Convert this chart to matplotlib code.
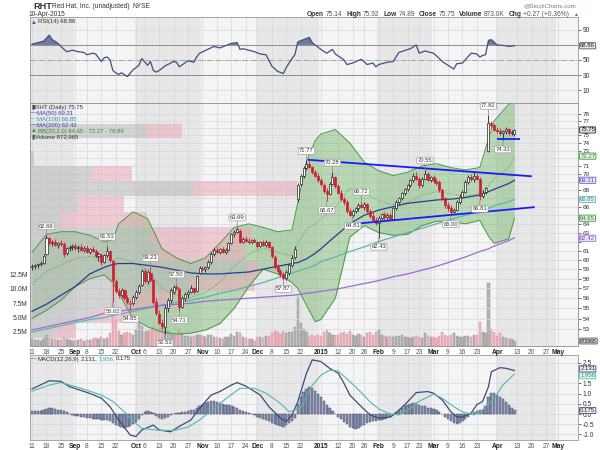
import numpy as np
import pandas as pd
import matplotlib
matplotlib.use('Agg')
import matplotlib.pyplot as plt
from matplotlib.transforms import blended_transform_factory as blend
from matplotlib.ticker import NullLocator, NullFormatter

plt.rcParams['font.family'] = ['Liberation Sans', 'DejaVu Sans']

# 交易日（去掉美股假日）
holidays = ['2014-09-01', '2014-11-27', '2014-12-25', '2015-01-01',
            '2015-01-19', '2015-02-16', '2015-04-03']
days = pd.bdate_range('2014-08-11', '2015-05-08')
days = days[~days.isin(pd.to_datetime(holidays))]

tick_dates = ['2014-08-11', '2014-08-18', '2014-08-25', '2014-09-02', '2014-09-08', '2014-09-15',
              '2014-09-22', '2014-10-01', '2014-10-06', '2014-10-13', '2014-10-20', '2014-10-27',
              '2014-11-03', '2014-11-10', '2014-11-17', '2014-11-24', '2014-12-01', '2014-12-08',
              '2014-12-15', '2014-12-22', '2015-01-02', '2015-01-12', '2015-01-20', '2015-01-26',
              '2015-02-02', '2015-02-09', '2015-02-17', '2015-02-23', '2015-03-02', '2015-03-09',
              '2015-03-16', '2015-03-23', '2015-04-01', '2015-04-13', '2015-04-20', '2015-04-27',
              '2015-05-01']
tick_labels = ['11', '18', '25', 'Sep', '8', '15', '22', 'Oct', '6', '13', '20', '27', 'Nov', '10',
               '17', '24', 'Dec', '8', '15', '22', '2015', '12', '20', '26', 'Feb', '9', '17', '23',
               'Mar', '9', '16', '23', 'Apr', '13', '20', '27', 'May']

# 日K线数据
opens = [
    59.2, 59.3, 59.4, 59.5, 59.7, 60.6, 62.4, 61.8, 62.0, 61.6, 61.8, 61.7, 60.7, 61.3, 61.4,
    61.5, 61.3, 61.4, 61.1, 61.3, 60.9, 61.2, 61.0, 60.4, 60.5, 59.8, 60.5, 61.0, 59.9,
    57.8, 56.7, 56.3, 56.8, 56.0, 55.4, 55.5, 56.1, 56.6, 57.3, 58.8, 57.8, 58.6, 57.9, 55.6,
    54.4, 53.6, 53.2, 55.0, 55.8, 56.6, 57.1, 56.9, 55.1, 56.0, 56.4, 56.6, 57.0, 56.7, 58.6,
    59.1, 59.0, 59.2, 59.8, 60.6, 61.1, 60.9, 61.2, 60.8, 61.1, 61.8, 62.8, 63.1, 63.2, 62.0,
    62.3, 62.1, 61.9, 62.2, 62.0, 61.5, 61.9, 61.6, 62.0, 61.4, 60.3, 59.2, 58.8, 58.5,
    58.1, 58.6, 59.4, 60.3, 66.9, 68.7, 69.8, 70.8, 71.3, 70.9, 70.2, 69.8, 69.2,
    68.6, 67.9, 67.5, 68.8, 69.6, 68.5, 67.7, 66.9, 66.5, 65.5, 65.0, 65.5, 65.8, 66.2,
    66.0, 66.3, 65.5, 64.9, 64.5, 64.1, 64.7, 65.1, 64.8, 65.0, 64.6, 65.8, 66.6, 67.0, 67.6,
    68.1, 68.6, 69.2, 69.8, 69.4, 68.6, 69.4, 70.0, 69.3, 69.6, 69.1, 69.0, 68.0, 67.0,
    66.2, 65.8, 65.4, 65.6, 66.6, 67.2, 67.8, 69.0, 69.6, 69.4, 69.7, 69.4, 67.3, 67.8, 73.0,
    76.7, 76.4, 75.8, 75.6, 75.4, 75.6, 75.9, 75.3, 75.14]
highs = [
    59.5, 59.6, 59.7, 59.9, 60.6, 62.69, 62.5, 62.2, 62.3, 62.0, 62.2, 61.9, 61.4, 61.6, 61.7,
    61.8, 61.6, 61.7, 61.5, 61.6, 61.3, 61.5, 61.2, 60.8, 60.7, 60.6, 61.53, 61.1, 60.0,
    58.0, 57.0, 57.0, 56.9, 56.3, 55.8, 56.3, 56.8, 57.4, 59.0, 59.0, 58.9, 59.23, 58.0, 56.0,
    54.8, 54.0, 55.3, 56.0, 57.0, 57.3, 57.5, 57.0, 56.2, 56.6, 56.8, 57.3, 57.1, 58.4, 59.3,
    59.3, 59.3, 60.0, 60.8, 61.3, 61.4, 61.3, 61.4, 61.3, 61.9, 63.0, 63.3, 63.69, 63.4, 62.5,
    62.6, 62.4, 62.3, 62.4, 62.1, 62.1, 62.2, 62.2, 62.1, 61.5, 60.5, 59.5, 59.0, 58.7,
    58.9, 59.6, 60.5, 61.5, 68.9, 70.0, 71.0, 71.77, 71.6, 71.0, 70.5, 70.1, 69.5,
    68.9, 68.3, 69.0, 70.28, 69.8, 68.7, 68.0, 67.2, 66.8, 65.8, 65.7, 66.0, 66.4, 66.72,
    66.5, 66.4, 65.7, 65.4, 64.8, 64.9, 65.3, 65.4, 65.2, 65.3, 66.0, 66.8, 67.2, 67.8, 68.3,
    68.8, 69.4, 70.1, 70.2, 69.6, 69.6, 70.55, 70.3, 69.8, 69.9, 69.5, 69.2, 68.2, 67.2,
    66.6, 66.2, 65.8, 66.8, 67.5, 68.0, 69.2, 69.9, 70.0, 70.2, 70.0, 69.6, 68.0, 68.4, 77.82,
    77.0, 76.6, 76.1, 76.0, 75.8, 76.1, 76.0, 75.8, 75.92]
lows = [
    58.9, 59.0, 59.1, 59.3, 59.5, 60.5, 61.6, 61.5, 61.5, 61.3, 61.5, 60.3, 60.5, 61.0, 61.1,
    61.1, 60.9, 61.0, 60.8, 60.7, 60.6, 60.8, 60.2, 59.9, 59.4, 59.7, 60.3, 59.8, 55.62,
    56.5, 56.0, 56.1, 55.8, 55.4, 54.85, 55.3, 55.9, 56.4, 57.2, 57.6, 57.5, 57.7, 55.4, 54.3,
    53.5, 53.0, 52.53, 54.6, 55.5, 56.4, 56.8, 54.71, 55.0, 55.7, 56.0, 56.5, 56.4, 56.6, 58.5,
    58.8, 58.7, 59.0, 59.6, 60.4, 60.7, 60.6, 60.7, 60.6, 61.0, 61.7, 62.5, 62.9, 61.8, 61.8,
    61.9, 61.7, 61.7, 61.9, 61.3, 61.4, 61.5, 61.4, 61.3, 60.2, 59.0, 58.6, 58.2, 57.87,
    57.9, 58.4, 59.2, 60.1, 66.5, 68.5, 69.5, 70.5, 70.7, 70.0, 69.6, 69.0, 68.5,
    67.7, 66.67, 67.4, 68.6, 68.3, 67.5, 66.7, 66.2, 65.3, 64.9, 64.81, 65.2, 65.5, 65.8,
    65.6, 65.3, 64.7, 64.3, 63.9, 62.43, 64.4, 64.5, 64.5, 64.4, 64.5, 65.6, 66.3, 66.8, 67.4,
    67.9, 68.4, 69.0, 69.2, 68.3, 68.4, 69.2, 69.1, 69.0, 68.9, 68.6, 67.8, 66.8, 65.9,
    65.5, 65.0, 65.2, 65.5, 66.3, 67.0, 67.6, 68.8, 69.1, 69.0, 69.2, 66.81, 67.0, 67.5, 72.8,
    76.0, 75.6, 75.3, 75.1, 74.33, 75.2, 75.1, 75.0, 74.89]
closes = [
    59.3, 59.4, 59.5, 59.7, 60.4, 62.4, 61.8, 62.0, 61.6, 61.8, 61.7, 60.6, 61.3, 61.4, 61.5,
    61.3, 61.4, 61.1, 61.3, 60.9, 61.2, 61.0, 60.4, 60.6, 59.8, 60.5, 61.0, 60.0, 57.9,
    56.7, 56.3, 56.8, 56.0, 55.6, 55.5, 56.1, 56.6, 57.2, 58.8, 57.8, 58.7, 57.9, 55.6, 54.5,
    53.6, 53.3, 55.0, 55.8, 56.8, 57.1, 57.0, 55.1, 56.0, 56.4, 56.6, 57.0, 56.6, 58.3, 59.1,
    59.0, 59.2, 59.8, 60.6, 61.1, 60.9, 61.2, 60.8, 61.1, 61.8, 62.8, 63.1, 63.4, 62.0, 62.3,
    62.1, 61.9, 62.2, 62.0, 61.5, 61.9, 61.6, 62.0, 61.4, 60.4, 59.2, 58.8, 58.5, 58.1,
    58.7, 59.4, 60.2, 61.2, 68.6, 69.8, 70.8, 71.3, 70.9, 70.2, 69.8, 69.2, 68.7,
    67.9, 67.5, 68.8, 69.6, 68.5, 67.7, 66.9, 66.5, 65.5, 65.0, 65.5, 65.8, 66.2, 66.0,
    66.3, 65.5, 64.9, 64.5, 64.1, 64.7, 65.1, 64.8, 65.0, 64.6, 65.8, 66.6, 67.0, 67.6, 68.1,
    68.6, 69.2, 69.8, 69.4, 68.6, 69.4, 70.0, 69.3, 69.6, 69.1, 68.9, 68.0, 67.0, 66.2,
    65.8, 65.4, 65.6, 66.6, 67.2, 67.8, 69.0, 69.6, 69.4, 69.7, 69.4, 67.3, 67.6, 68.2, 76.7,
    76.4, 75.8, 75.6, 75.4, 75.6, 75.9, 75.3, 75.48, 75.75]
# 成交量（百万股）
volume = [
    1.2, 1.0, 1.1, 0.9, 1.3, 1.9, 1.4, 1.2, 1.3, 1.0, 1.1, 1.5, 1.2, 1.0, 0.9,
    1.1, 1.0, 1.2, 0.9, 1.1, 1.0, 1.3, 1.4, 1.2, 1.5, 1.3, 1.4, 2.2, 12.0,
    4.5, 2.6, 2.0, 2.2, 2.4, 2.3, 2.0, 2.8, 4.0, 3.5, 2.5, 2.6, 3.0, 3.4, 2.8,
    3.2, 4.0, 3.3, 2.6, 2.2, 2.0, 2.1, 2.9, 2.3, 1.8, 1.7, 1.6, 1.8, 2.0, 1.9,
    1.8, 1.5, 2.0, 1.9, 1.6, 1.5, 1.4, 1.3, 1.6, 1.5, 2.1, 1.7, 2.4, 2.3, 1.6,
    1.4, 1.3, 1.2, 0.8, 1.6, 1.5, 1.4, 1.7, 1.8, 2.3, 2.6, 2.4, 2.1, 2.6,
    2.2, 2.4, 2.5, 3.4, 8.5, 4.0, 2.9, 2.5, 1.6, 1.9, 1.7, 2.0, 1.8,
    2.4, 2.8, 2.2, 2.0, 1.9, 2.0, 2.3, 2.4, 2.1, 2.6, 2.0, 1.8, 2.1, 1.9,
    1.6, 2.2, 2.4, 2.0, 2.5, 2.8, 2.0, 1.8, 1.6, 1.7, 1.6, 1.7, 1.8, 2.0, 1.5,
    1.6, 1.4, 1.5, 1.8, 1.6, 1.4, 2.2, 1.7, 1.5, 1.5, 1.4, 1.8, 2.4, 2.0,
    1.7, 2.0, 2.2, 1.8, 1.6, 1.6, 1.8, 1.7, 1.6, 1.9, 2.0, 4.2, 2.4, 2.2, 11.0,
    3.0, 2.4, 1.8, 2.2, 1.6, 1.4, 1.2, 1.3, 0.872965]

# 指标采样点（交易日序号）
s_idx = [0, 5, 10, 15, 20, 25, 28, 30, 35, 40, 45, 50, 55, 60, 65, 70, 75, 80, 85, 90, 92, 95, 98,
         100, 105, 110, 115, 120, 125, 130, 135, 140, 145, 150, 155, 158, 160, 165, 167]
bb_upper = [60.8, 62.8, 63.1, 63.1, 62.7, 62.0, 62.2, 64.0, 65.4, 64.6, 61.2, 60.2, 59.6, 60.2,
            61.8, 63.6, 64.0, 63.6, 63.1, 63.3, 66.5, 71.5, 74.3, 75.2, 75.8, 74.0, 71.5, 70.4,
            69.8, 70.2, 71.0, 71.3, 70.8, 70.5, 70.8, 74.5, 77.0, 79.3, 79.89]
bb_lower = [54.0, 54.8, 55.8, 57.2, 58.0, 58.4, 57.6, 56.5, 54.0, 53.2, 52.7, 52.5, 52.6, 52.9,
            53.5, 55.0, 57.2, 59.0, 58.5, 57.6, 57.0, 55.3, 53.7, 53.9, 56.0, 62.5, 63.8, 63.0,
            62.7, 62.8, 63.8, 64.3, 64.3, 64.0, 64.4, 62.6, 61.8, 62.3, 64.65]
bb_mid = [57.4, 58.8, 59.45, 60.15, 60.35, 60.2, 59.9, 60.25, 59.7, 58.9, 56.95, 56.35, 56.1, 56.55,
          57.65, 59.3, 60.6, 61.3, 60.8, 60.45, 61.75, 63.4, 64.0, 64.55, 65.9, 68.25, 67.65, 66.7,
          66.25, 66.5, 67.4, 67.8, 67.55, 67.25, 67.6, 68.55, 69.4, 70.8, 72.27]
ma50 = [54.7, 55.4, 56.3, 57.2, 58.5, 59.2, 59.5, 59.6, 59.6, 59.4, 59.2, 58.9, 58.6, 58.5, 58.5,
        58.6, 58.7, 59.0, 59.3, 59.6, 59.7, 60.1, 60.7, 61.2, 62.6, 64.0, 65.0, 65.6, 66.0, 66.4,
        66.6, 66.8, 66.9, 67.1, 67.4, 67.8, 68.1, 68.8, 69.21]
ma100 = [52.7, 53.0, 53.3, 53.6, 53.9, 54.1, 54.3, 54.4, 54.7, 55.0, 55.3, 55.6, 55.8, 56.1, 56.5,
         56.8, 57.2, 57.6, 58.1, 58.6, 58.8, 59.1, 59.4, 59.8, 60.3, 60.9, 61.4, 62.0, 62.5, 63.0,
         63.5, 64.0, 64.5, 65.0, 65.5, 65.8, 66.1, 66.6, 66.85]
ma200 = [52.9, 53.2, 53.5, 53.8, 54.1, 54.5, 54.6, 54.7, 54.9, 55.1, 55.3, 55.4, 55.5, 55.7, 55.8,
         55.9, 56.0, 56.1, 56.2, 56.3, 56.35, 56.5, 56.6, 56.7, 56.9, 57.2, 57.5, 57.8, 58.2, 58.5,
         58.9, 59.3, 59.8, 60.3, 60.9, 61.2, 61.5, 62.1, 62.42]

rsi_idx = [0, 3, 4, 6, 7, 9, 10, 12, 14, 16, 18, 19, 21, 22, 24, 25, 26, 27, 28, 29,
           30, 31, 33, 35, 37, 38, 40, 41, 42, 43, 44, 46, 49, 50, 51, 54, 56, 57, 58, 63,
           65, 69, 71, 72, 73, 77, 79, 81, 83, 85, 87, 88, 90, 91, 92, 94, 96, 97, 99, 100,
           102, 104, 105, 108, 109, 111, 114, 116, 118, 119, 120, 123, 125, 127, 131, 133, 134, 136, 139, 141,
           142, 144, 146, 147, 149, 152, 154, 155, 156, 157, 158, 159, 161, 164, 165, 167]
rsi_val = [71, 74, 75, 83, 77, 72, 68, 61, 63, 61, 60, 57, 59, 58, 48, 53, 54, 50, 36, 33,
           31, 33, 28, 37, 43, 52, 43, 48, 36, 34, 36, 42, 48, 47, 41, 49, 47, 54, 59, 68,
           66, 72, 73, 64, 65, 61, 58, 57, 42, 35, 32, 40, 52, 57, 74, 77, 80, 73, 67, 64,
           59, 64, 58, 50, 44, 46, 51, 44, 46, 41, 44, 47, 48, 60, 65, 70, 59, 62, 59, 52,
           48, 43, 38, 45, 46, 59, 58, 54, 56, 57, 76, 77, 70, 69, 68, 68.86]

macd_idx = [0, 6, 10, 13, 20, 24, 27, 30, 34, 36, 38, 42, 44, 48, 51, 55, 58, 62, 65, 69,
            71, 74, 79, 82, 86, 88, 90, 92, 95, 97, 100, 103, 106, 108, 110, 114, 117, 120, 124, 126,
            130, 133, 137, 139, 142, 145, 147, 149, 152, 154, 156, 158, 159, 162, 164, 167]
macd_val = [1.23, 1.63, 1.6, 1.34, 1.01, 0.78, 0.36, -0.29, -1.03, -1.1, -0.78, -0.54, -0.78, -0.87,
            -0.6, -0.29, 0.28, 0.93, 1.1, 1.42, 1.54, 1.37, 0.93, 0.36, -0.2, -0.36, -0.04, 0.6,
            2.0, 2.65, 2.57, 2.24, 2.0, 1.5, 0.93, 0.36, -0.04, -0.2, -0.15, 0.05, 0.6, 1.05,
            1.1, 1.02, 0.69, 0.11, -0.13, -0.15, 0.05, 0.46, 0.62, 1.34, 2.07, 2.27, 2.24, 2.131]
sig_idx = [0, 6, 10, 17, 24, 28, 32, 35, 38, 44, 49, 54, 58, 63, 68, 72, 77, 81, 86, 89,
           93, 95, 97, 100, 103, 106, 110, 114, 117, 120, 124, 127, 131, 134, 139, 142, 146, 149,
           153, 156, 160, 163, 167]
sig_val = [1.12, 1.42, 1.54, 1.26, 0.93, 0.62, 0.1, -0.35, -0.7, -0.8, -0.8, -0.64, -0.29, 0.28,
           0.85, 1.26, 1.26, 1.02, 0.52, 0.11, 0.3, 0.87, 1.4, 1.9, 2.15, 2.1, 1.6, 1.05, 0.6,
           0.25, 0.0, -0.04, 0.28, 0.62, 0.98, 0.77, 0.36, 0.11, -0.04, 0.2, 0.77, 1.42, 1.956]
hist = [
    0.15, 0.15, 0.16, 0.17, 0.2, 0.25, 0.29, 0.28, 0.26, 0.22, 0.2, 0.15, 0.08,
    0.0, -0.05, -0.08, -0.1, -0.12, -0.15, -0.18, -0.2, -0.22, -0.25, -0.26,
    -0.28, -0.27, -0.3, -0.32, -0.45, -0.55, -0.6, -0.65, -0.66, -0.65, -0.6, -0.5,
    -0.4, -0.25, -0.05, 0.08, 0.15, 0.12, 0.05, -0.1, -0.2, -0.22, -0.18, -0.12, -0.05,
    0.0, 0.05, 0.03, 0.08, 0.12, 0.15, 0.2, 0.22, 0.3, 0.38, 0.45, 0.52, 0.58, 0.62, 0.62,
    0.6, 0.56, 0.5, 0.46, 0.44, 0.4, 0.35, 0.3, 0.22, 0.15, 0.1, 0.05, 0.0, -0.05,
    -0.12, -0.18, -0.22, -0.28, -0.35, -0.42, -0.5, -0.56, -0.6, -0.62, -0.55, -0.45, -0.32, -0.18,
    0.5, 0.85, 1.1, 1.25, 1.32, 1.28, 1.15, 1.0, 0.85, 0.65, 0.45, 0.3, 0.15, 0.02,
    -0.12, -0.25, -0.38, -0.5, -0.62, -0.7, -0.72, -0.68, -0.6, -0.52, -0.45, -0.4, -0.36, -0.33,
    -0.3, -0.28, -0.25, -0.2, -0.15, -0.05, 0.08, 0.2, 0.3, 0.4, 0.45, 0.5, 0.55, 0.52,
    0.45, 0.4, 0.38, 0.32, 0.28, 0.24, 0.2, 0.12, 0.0, -0.12, -0.25, -0.35, -0.45, -0.5, -0.45,
    -0.35, -0.25, -0.12, -0.02, 0.08, 0.15, 0.2, 0.22, 0.4, 0.85,
    1.05, 1.02, 0.95, 0.85, 0.72, 0.6, 0.45, 0.32, 0.175]

# 价量分布（价格区间边界，上涨/下跌量）
vbp_edges = [52.1, 53.6, 55.1, 56.7, 58.2, 59.9, 61.8, 63.6, 65.4, 67.3, 69.1, 71.0, 72.9, 74.7, 76.6]
vbp_up = [8, 24, 35, 55, 75, 44, 42, 10.4, 16.6, 56.4, 21.5, 1.4, 0, 40.5]
vbp_down = [8, 12, 15, 23, 4, 30.5, 35, 30.1, 16.0, 36.0, 13.8, 0, 0, 12.1]

# 高低点标注
lab_idx = [5, 26, 28, 34, 41, 46, 50, 51, 71, 87, 95, 102, 104, 111, 114, 120, 136, 145, 155, 158, 163]
lab_hi = [1, 1, 0, 0, 1, 0, 1, 0, 1, 0, 1, 0, 1, 0, 1, 0, 1, 0, 0, 1, 0]

# 趋势线
trend_x = [(95.5, 173), (110, 174), (161, 169)]
trend_y = [(71.8, 69.7), (63.95, 65.95), (74.5, 74.5)]

# 被右侧数值框盖住的刻度
price_ticks = [53, 54, 55, 56, 57, 58, 59, 60, 61, 63, 64, 66, 68, 70, 71, 73, 74, 75, 77, 78]
rsi_ticks = [10, 30, 50, 90]
macd_ticks = [-1.0, -0.5, 0.0, 0.5, 1.0, 1.5, 2.5]

# ---------------- 绘图 ----------------
n = len(closes)
x = np.arange(n)
o, h, l, c = map(np.array, (opens, highs, lows, closes))
prev = np.r_[c[0], c[:-1]]
down = c < prev
tick_pos = days.get_indexer(pd.to_datetime(tick_dates))
month_first = days.to_series().groupby(days.to_period('M')).first()
bounds = [-0.7] + [days.get_loc(d) - 0.5 for d in month_first.values[1:]] + [189]

fig = plt.figure(figsize=(6, 4.5), dpi=100)
L, W = 30 / 600, 548 / 600
ax_r = fig.add_axes([L, 1 - 103 / 450, W, 86 / 450])
axv = fig.add_axes([L, 1 - 346 / 450, W, 243 / 450])
ax = fig.add_axes([L, 1 - 346 / 450, W, 243 / 450])
ax_m = fig.add_axes([L, 1 - 440 / 450, W, 85 / 450])
axv.set_zorder(1)
ax.set_zorder(2)
ax.patch.set_visible(False)

grid_c = '#d3d8df'
for a in (ax_r, axv, ax, ax_m):
    a.set_xlim(-0.7, 189)
    a.set_xticks(tick_pos)
    a.tick_params(axis='x', length=0, pad=1.8, labelsize=4.8, colors='#555555')
    for s in a.spines.values():
        s.set_color('#9a9a9a')
        s.set_linewidth(0.6)
for a in (ax_r, axv, ax_m):
    for k in range(len(bounds) - 1):
        a.axvspan(bounds[k], bounds[k + 1], color='#e7e7e7' if k % 2 == 0 else '#f4f4f4', lw=0, zorder=0)
    a.grid(axis='x', color=grid_c, lw=0.5, zorder=0.5)
    a.grid(axis='y', color=grid_c, lw=0.5, zorder=0.5)
    a.set_axisbelow(True)
ax_r.set_xticklabels([])
axv.set_xticklabels([])
for a in (ax, ax_m):
    a.set_xticklabels(tick_labels)
    for t, s in zip(a.get_xticklabels(), tick_labels):
        if not s.isdigit() or s == '2015':
            t.set_fontweight('bold')
            t.set_color('#222222')

# RSI
ax_r.set_ylim(-7, 107)
ax_r.plot(rsi_idx, rsi_val, color='#3f4f80', lw=0.9, zorder=3)
ax_r.fill_between(rsi_idx, 70, rsi_val, where=np.array(rsi_val) > 70, interpolate=True,
                  color='#6c7ba0', lw=0, zorder=2)
ax_r.fill_between(rsi_idx, 30, rsi_val, where=np.array(rsi_val) < 30, interpolate=True,
                  color='#9aa6c4', lw=0, zorder=2)
ax_r.axhline(70, color='#8c8c8c', lw=0.7, zorder=1)
ax_r.axhline(30, color='#8c8c8c', lw=0.7, zorder=1)
ax_r.axhline(50, color='#9a9a9a', lw=0.6, ls='-.', zorder=1)
ax_r.yaxis.tick_right()
ax_r.set_yticks(rsi_ticks)
ax_r.tick_params(axis='y', length=2, width=0.5, pad=1.5, labelsize=4.8, colors='#333333')

# 成交量
axv.set_ylim(0, 42.5)
axv.bar(x, volume, width=0.75, color=np.where(down, '#ecb4bd', '#b4b4b4'),
        edgecolor=np.where(down, '#d68d9b', '#8e8e8e'), linewidth=0.3, zorder=2)
axv.yaxis.tick_left()
axv.set_yticks([2.5, 5, 7.5, 10, 12.5])
axv.set_yticklabels(['2.5M', '5.0M', '7.5M', '10.0M', '12.5M'])
axv.tick_params(axis='y', length=0, pad=1.5, labelsize=4.8, colors='#333333')
axv.grid(axis='y', visible=False)

# 价格（对数坐标）
ax.set_yscale('log')
ax.set_ylim(51.4, 79.5)
ax.yaxis.set_minor_locator(NullLocator())
ax.yaxis.set_minor_formatter(NullFormatter())
ax.yaxis.tick_right()
ax.set_yticks(range(53, 79))
ax.set_yticklabels([str(v) if v in price_ticks else '' for v in range(53, 79)])
ax.tick_params(axis='y', length=2, width=0.5, pad=1.5, labelsize=4.6, colors='#333333')
ax.grid(axis='y', color=grid_c, lw=0.5, zorder=0.5)
ax.set_axisbelow(True)

for k in range(len(vbp_up)):
    lo, hi = vbp_edges[k], vbp_edges[k + 1]
    ax.barh(lo, vbp_up[k], height=hi - lo, left=-0.7, align='edge', color='#b9b9b9',
            alpha=0.55, lw=0, zorder=2)
    ax.barh(lo, vbp_down[k], height=hi - lo, left=-0.7 + vbp_up[k], align='edge',
            color='#eaa9b8', alpha=0.55, lw=0, zorder=2)

ax.fill_between(s_idx, bb_lower, bb_upper, color='#74b46a', alpha=0.45, lw=0, zorder=1)
ax.plot(s_idx, bb_upper, color='#4b9643', lw=0.7, zorder=3)
ax.plot(s_idx, bb_lower, color='#4b9643', lw=0.7, zorder=3)
ax.plot(s_idx, bb_mid, color='#4b9643', lw=0.6, ls=':', zorder=3)
ax.plot(s_idx, ma50, color='#2d3a92', lw=0.9, zorder=3)
ax.plot(s_idx, ma100, color='#5ab5ac', lw=0.9, zorder=3)
ax.plot(s_idx, ma200, color='#9b6ad6', lw=0.9, zorder=3)

edge = np.where(down, '#cf1f2f', '#222222')
face = np.where(c >= o, 'white', edge)
ax.vlines(x, l, h, colors=edge, lw=0.6, zorder=5)
ax.bar(x, np.maximum(np.abs(c - o), 0.06), bottom=np.minimum(o, c), width=0.72,
       color=face, edgecolor=edge, linewidth=0.5, zorder=6)

for (x0, x1), (y0, y1) in zip(trend_x, trend_y):
    ax.plot([x0, x1], [y0, y1], color='#1a1aff', lw=1.3, zorder=7, solid_capstyle='butt')

for i, hi in zip(lab_idx, lab_hi):
    v = highs[i] if hi else lows[i]
    ax.annotate(f'{v:.2f}', (i, v), xytext=(0, 6.5 if hi else -6.5), textcoords='offset points',
                ha='center', va='center', fontsize=4.2, color='#333333', zorder=8,
                bbox=dict(boxstyle='round,pad=0.15', fc='white', ec='#a0a0a0', lw=0.5),
                arrowprops=dict(arrowstyle='-', color='#888888', lw=0.5, shrinkA=0, shrinkB=0))

# MACD
ax_m.set_ylim(-1.27, 2.89)
ax_m.bar(x, hist, width=0.8, color='#8890ae', edgecolor='#3a4062', linewidth=0.3, zorder=2)
ax_m.plot(macd_idx, macd_val, color='#3d4a7c', lw=0.9, zorder=3)
ax_m.plot(sig_idx, sig_val, color='#52b7aa', lw=0.8, zorder=3)
ax_m.yaxis.tick_right()
ax_m.set_yticks(macd_ticks)
ax_m.set_yticklabels([f'{v:.1f}' for v in macd_ticks])
ax_m.tick_params(axis='y', length=2, width=0.5, pad=1.5, labelsize=4.8, colors='#333333')


# 右侧数值标签
def tag(a, y, s, ec, fc, tc, tr=None, fs=4.3):
    tr = tr or blend(a.transAxes, a.transData)
    a.text(1.004, y, s, transform=tr, fontsize=fs, color=tc, ha='left', va='center',
           zorder=30, clip_on=False,
           bbox=dict(boxstyle='round,pad=0.1', fc=fc, ec=ec, lw=0.6))


tag(ax_r, rsi_val[-1], f'{rsi_val[-1]:.2f}', '#555555', '#e6e8f0', '#222222')
tag(ax, closes[-1], f'{closes[-1]:.2f}', '#333333', '#e0e0e0', '#111111')
tag(ax, bb_mid[-1], f'{bb_mid[-1]:.2f}', '#3c9a3c', '#e8f4e6', '#2e7d2e')
tag(ax, ma50[-1], f'{ma50[-1]:.2f}', '#6655cc', '#eeeeff', '#4a3cb0')
tag(ax, ma100[-1], f'{ma100[-1]:.2f}', '#6ab2b2', '#e2f4f4', '#3a8a8a')
tag(ax, bb_lower[-1], f'{bb_lower[-1]:.2f}', '#3c9a3c', '#e8f4e6', '#2e7d2e')
tag(ax, ma200[-1] - 0.05, f'{ma200[-1]:.2f}', '#9070d0', '#f2eaff', '#6a44b8')
tag(ax, volume[-1], f'{round(volume[-1] * 1e6)}', '#666666', '#c8c8c8', '#222222',
    blend(ax.transAxes, axv.transData), fs=3.6)
tag(ax_m, macd_val[-1] + 0.08, f'{macd_val[-1]:.3f}', '#3d4a7c', '#eeeeee', '#222222')
tag(ax_m, sig_val[-1] - 0.08, f'{sig_val[-1]:.3f}', '#52b7aa', '#e6f6f4', '#2a8a80')
tag(ax_m, hist[-1], f'{hist[-1]:.3f}', '#3d4a7c', '#eeeeee', '#222222')

# 文字：按顺序排开，避免相互重叠
renderer = fig.canvas.get_renderer()


def row(px, py, pieces, fs=4.3, gap=1.2):
    cur = px
    for s, col, bold, extra in pieces:
        t = fig.text(cur / 600, 1 - py / 450, s, fontsize=fs, color=col, va='center', ha='left',
                     weight='bold' if bold else 'normal')
        cur = t.get_window_extent(renderer).x1 + gap + extra


row(33, 6.5, [('RHT', '#333333', True, 0.8)], fs=6.6)
row(52, 6.5, [('Red Hat, Inc. (unadjusted)', '#333333', False, 1.5), ('NYSE', '#333333', False, 0)], fs=4.8)
row(29, 14, [('10-Apr-2015', '#333333', False, 0)], fs=4.8)
row(523, 6, [('@StockCharts.com', '#777777', False, 0)], fs=4.4)
row(307, 14, [('Open', '#333333', True, 0), (f'{opens[-1]:.2f}', '#555555', False, 2.5),
              ('High', '#333333', True, 0), (f'{highs[-1]:.2f}', '#555555', False, 2.5),
              ('Low', '#333333', True, 0), (f'{lows[-1]:.2f}', '#555555', False, 2.5),
              ('Close', '#333333', True, 0), (f'{closes[-1]:.2f}', '#555555', False, 2.5),
              ('Volume', '#333333', True, 0), (f'{volume[-1] * 1000:.1f}K', '#555555', False, 2.5),
              ('Chg', '#333333', True, 0), ('+0.27 (+0.36%)', '#555555', False, 0)], fs=4.8, gap=1.6)
row(573, 14.5, [('▲', '#2a9a2a', False, 0)], fs=3.5)

row(31, 22, [('▲', '#4a5a8a', False, 0), (f'RSI(14) {rsi_val[-1]:.2f}', '#333333', False, 0)], fs=4.3, gap=0.8)
row(31, 107, [('▮', '#333333', False, 0), (f'RHT (Daily) {closes[-1]:.2f}', '#333333', False, 0)], gap=0.8)
row(31, 113, [('—', '#2d3a92', False, 0), (f'MA(50) {ma50[-1]:.2f}', '#4a3cc0', False, 0)], gap=0.3)
row(31, 119, [('—', '#5ab5ac', False, 0), (f'MA(100) {ma100[-1]:.2f}', '#3a9a9a', False, 0)], gap=0.3)
row(31, 125, [('—', '#2d3a92', False, 0), (f'MA(200) {ma200[-1]:.2f}', '#4a3cc0', False, 0)], gap=0.3)
fig.patches.append(plt.Rectangle((31 / 600, 1 - 134 / 450), 96 / 600, 6 / 450, transform=fig.transFigure,
                                 fc='white', ec='none', zorder=0.5))
row(31, 131, [('▲', '#3c8a3c', False, 0),
              (f'BB(20,2.0) {bb_lower[-1]:.2f} - {bb_mid[-1]:.2f} - {bb_upper[-1]:.2f}', '#2e8b2e', False, 0)],
    gap=0.8)
row(31, 137, [('▮', '#555555', False, 0), (f'Volume {round(volume[-1] * 1e6):,}', '#333333', False, 0)], gap=0.8)
row(31, 359, [('—', '#3d4a7c', False, 0), ('MACD(12,26,9)', '#333333', False, 0.5),
              (f'{macd_val[-1]:.3f},', '#333333', False, 0.5), (f'{sig_val[-1]:.3f},', '#3aa79a', False, 0.5),
              (f'{hist[-1]:.3f}', '#333333', False, 0)], gap=0.6)

fig.savefig('out.png', dpi=100)
